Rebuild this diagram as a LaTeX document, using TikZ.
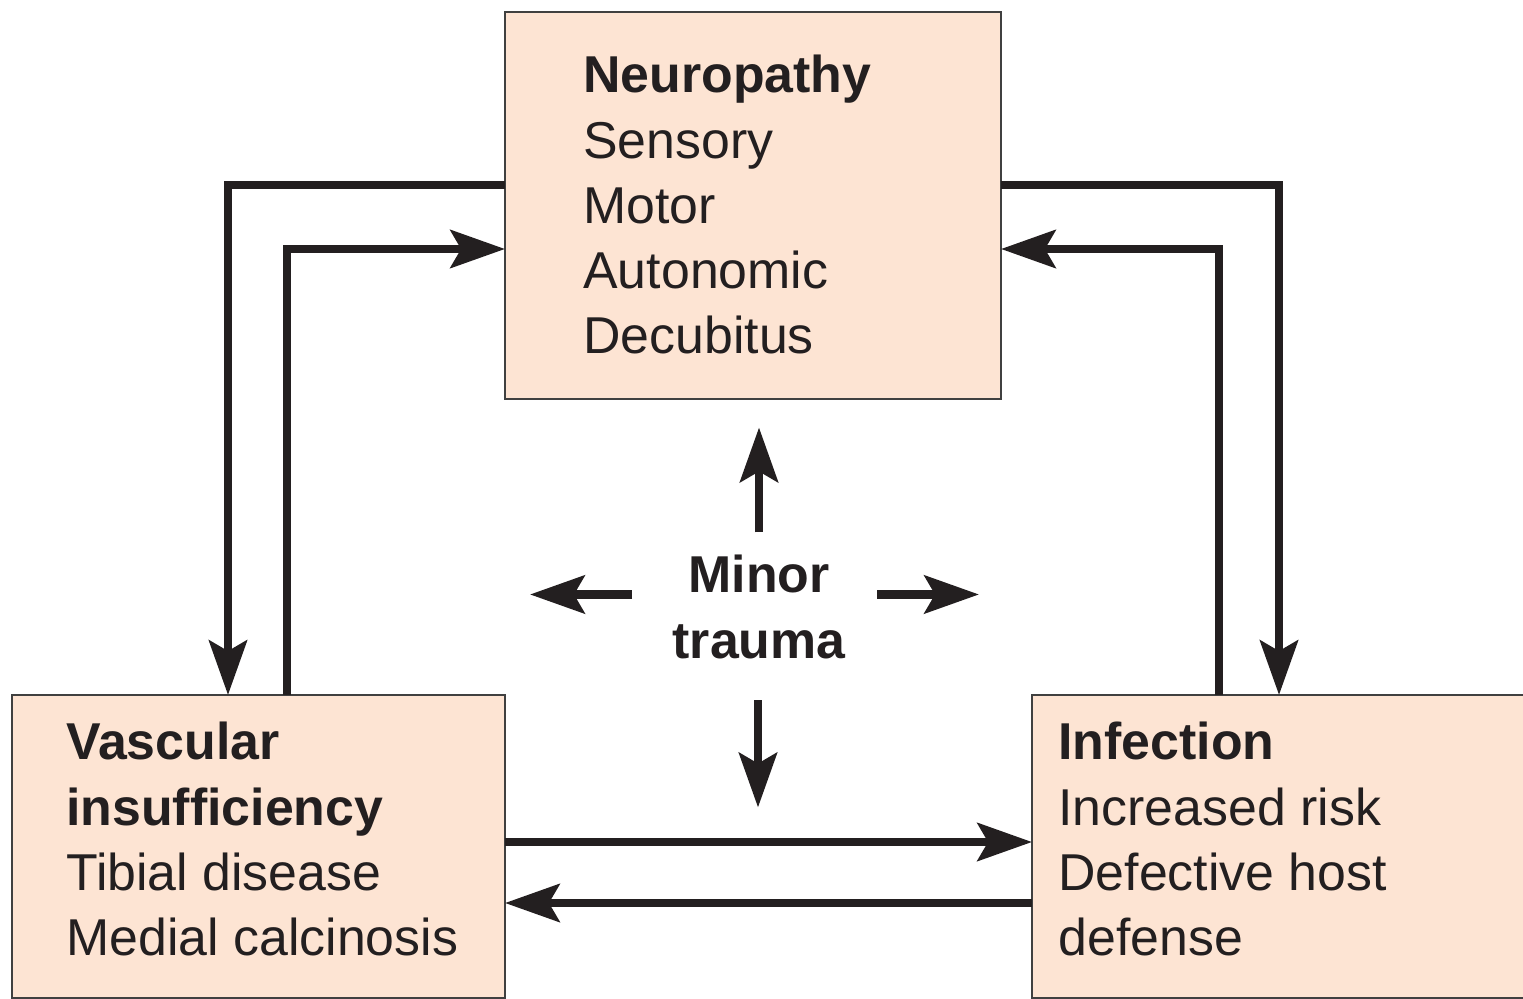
\documentclass[tikz,border=0pt]{standalone}
\usepackage{fontspec}
\setmainfont{Liberation Sans}
\usepackage{tikz}
\usetikzlibrary{arrows.meta}
\definecolor{boxfill}{HTML}{FDE4D3}
\definecolor{boxline}{HTML}{404040}
\definecolor{ink}{HTML}{231F20}
\tikzset{
  box/.style={draw=boxline, line width=1.1pt, fill=boxfill, outer sep=0pt, inner sep=0pt},
  boxtext/.style={anchor=north west, align=left, inner sep=0pt, text=ink,
    font=\fontsize{29.5}{37.1}\selectfont},
  arr/.style={draw=ink, line width=5pt,
    -{Stealth[length=31pt, width=21.5pt, inset=6pt]}}
}
\begin{document}
\begin{tikzpicture}[x=0.02cm, y=-0.02cm]
  \clip (0,0) rectangle (1523,999);
  \node[box, minimum width=9.92cm, minimum height=7.74cm] (neuro) at (753,205.5) {};
  \node[box, minimum width=9.86cm, minimum height=6.06cm] (vasc) at (258.5,846.5) {};
  \node[box, minimum width=10.56cm, minimum height=6.06cm] (infect) at (1296,846.5) {};
  \node[boxtext] (neurotxt) at ([xshift=1.56cm,yshift=-0.86cm]neuro.north west)
    {\textbf{Neuropathy}\\Sensory\\Motor\\Autonomic\\Decubitus};
  \node[boxtext] (vasctxt) at ([xshift=1.08cm,yshift=-0.54cm]vasc.north west)
    {\textbf{Vascular}\\\textbf{insufficiency}\\Tibial disease\\Medial calcinosis};
  \node[boxtext] (infecttxt) at ([xshift=0.52cm,yshift=-0.54cm]infect.north west)
    {\textbf{Infection}\\Increased risk\\Defective host\\defense};
  \node[anchor=north, align=center, inner sep=0pt, text=ink,
    font=\fontsize{29.5}{37.1}\selectfont\bfseries] (trauma) at (759,555)
    {Minor\\trauma};

  \coordinate (lo) at (228,185);
  \coordinate (li) at (287,249);
  \coordinate (ro) at (1279,185);
  \coordinate (ri) at (1219,249);
  \coordinate (bt) at (0,842);
  \coordinate (bb) at (0,903);
  \draw[arr] (lo -| neuro.west) -- (lo) -- (lo |- vasc.north);
  \draw[arr] (li |- vasc.north) -- (li) -- (li -| neuro.west);
  \draw[arr] (ro -| neuro.east) -- (ro) -- (ro |- infect.north);
  \draw[arr] (ri |- infect.north) -- (ri) -- (ri -| neuro.east);
  \draw[arr] (bt -| vasc.east) -- (bt -| infect.west);
  \draw[arr] (bb -| infect.west) -- (bb -| vasc.east);

  \draw[arr] (trauma.center) ++(0,-74.5) -- ++(0,-105);
  \draw[arr] (trauma.center) ++(-127,-12.5) -- ++(-102,0);
  \draw[arr] (trauma.center) ++(118,-12.5) -- ++(102,0);
  \draw[arr] (trauma.center) ++(-1,93.5) -- ++(0,107);
\end{tikzpicture}
\end{document}
